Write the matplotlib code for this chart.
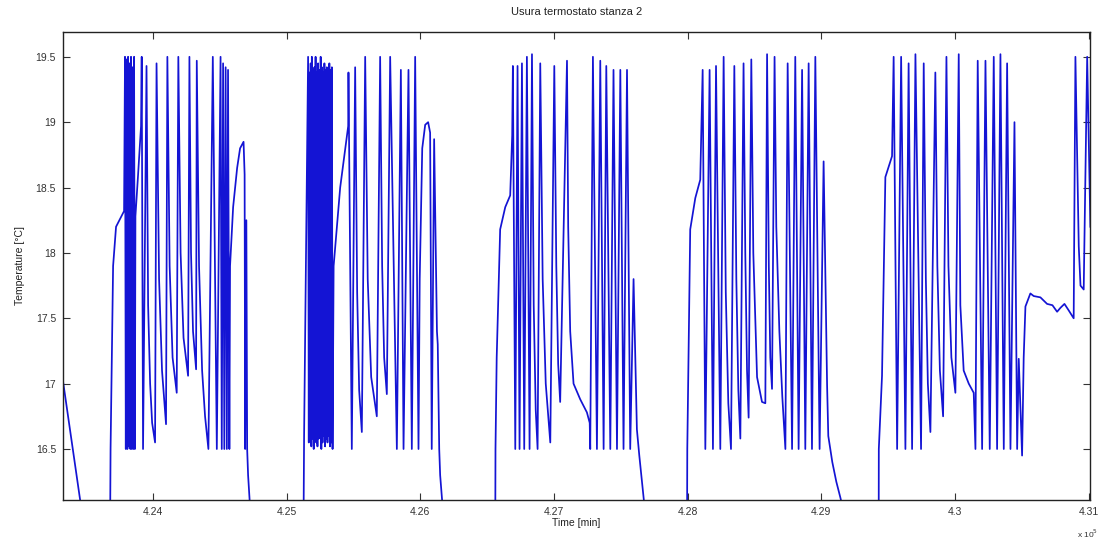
import numpy as np
import matplotlib.pyplot as plt
from matplotlib.ticker import FuncFormatter, MultipleLocator

plt.rcParams['font.family'] = ['Liberation Sans', 'DejaVu Sans']

# time [min] and temperature [C], one list per day
t_day0 = [423326, 423484]
temp_day0 = [17.02, 15.9]

t_day1 = [423678, 423682, 423701, 423723, 423783,
          423790, 423796, 423802, 423808, 423813, 423819, 423824, 423830, 423835, 423841, 423847, 423853, 423858, 423864,
          423868, 423888, 423910, 423915, 423925, 423951,
          423963, 423978, 423993, 424015, 424026,
          424045, 424067, 424097, 424107,
          424124, 424146, 424177, 424189,
          424206, 424228, 424262, 424272,
          424284, 424299, 424322, 424327,
          424344, 424367, 424389, 424414, 424447, 424477,
          424505, 424514, 424524, 424533, 424543, 424552, 424561, 424571,
          424576, 424599, 424629, 424651, 424677, 424685, 424689, 424698, 424704, 424711, 424741]
temp_day1 = [15.8, 16.5, 17.9, 18.2, 18.32,
             19.5, 16.5, 19.48, 16.5, 19.5, 16.52, 19.45, 16.5, 19.5, 16.5, 19.42, 16.5, 19.5, 16.5,
             18.28, 18.6, 18.97, 19.5, 16.5, 19.43,
             17.6, 17.0, 16.7, 16.55, 19.45,
             17.8, 17.1, 16.69, 19.5,
             17.9, 17.2, 16.93, 19.5,
             18.0, 17.35, 17.06, 19.5,
             18.0, 17.4, 17.11, 19.47,
             17.9, 17.1, 16.75, 16.5, 19.5, 16.5,
             19.5, 16.5, 19.45, 16.5, 19.42, 16.5, 19.4, 16.5,
             17.9, 18.35, 18.65, 18.8, 18.85, 18.6, 16.5, 18.25, 16.5, 16.3, 15.8]

t_day2 = [425125, 425130,
          425160, 425165, 425169, 425174, 425179, 425184, 425188, 425193, 425197, 425202,
          425207, 425212, 425216, 425221, 425225, 425230, 425235, 425240, 425244, 425249,
          425254, 425259, 425263, 425268, 425272, 425277, 425282, 425287, 425291, 425296,
          425300, 425305, 425310, 425315, 425319, 425324, 425328, 425333, 425338, 425343,
          425351, 425400, 425460, 425462, 425487, 425512,
          425527, 425542, 425562, 425587,
          425606, 425632, 425674, 425699,
          425714, 425729, 425749, 425774,
          425824, 425854, 425874, 425911, 425936, 425961, 425986,
          425995, 426014, 426036, 426058, 426073,
          426085, 426103, 426124, 426130, 426141, 426148, 426186]
temp_day2 = [15.8, 16.6,
             19.5, 16.55, 19.38, 16.6, 19.45, 16.52, 19.5, 16.58, 19.4, 16.5,
             19.42, 16.6, 19.5, 16.55, 19.38, 16.52, 19.45, 16.58, 19.4, 16.6,
             19.5, 16.5, 19.42, 16.55, 19.38, 16.6, 19.45, 16.52, 19.4, 16.58,
             19.42, 16.55, 19.38, 16.6, 19.45, 16.52, 19.4, 16.55, 19.42, 16.5,
             17.9, 18.5, 18.97, 19.38, 16.5, 19.42,
             17.7, 16.95, 16.63, 19.5,
             17.8, 17.05, 16.75, 19.5,
             17.9, 17.2, 16.92, 19.5,
             16.5, 19.4, 16.5, 19.4, 16.5, 19.5, 16.5,
             17.8, 18.8, 18.98, 19.0, 18.92,
             16.5, 18.87, 17.4, 17.3, 16.5, 16.3, 15.8]

t_day3 = [426560, 426562, 426571, 426597, 426635, 426672, 426687,
          426692, 426710, 426727, 426742, 426760, 426777, 426797, 426817, 426835,
          426848, 426863, 426877, 426897,
          426915, 426938, 426972, 427002,
          427017, 427031, 427046, 427097,
          427106, 427121, 427146, 427196, 427246, 427267, 427271,
          427291, 427321, 427346, 427371, 427391, 427421, 427445, 427471, 427496, 427520, 427546, 427570, 427595, 427620,
          427638, 427653, 427668, 427683, 427698]
temp_day3 = [15.8, 16.5, 17.2, 18.18, 18.35, 18.44, 18.9,
             19.43, 16.5, 19.43, 16.5, 19.45, 16.5, 19.5, 16.5, 19.52,
             17.6, 16.8, 16.5, 19.45,
             17.8, 17.0, 16.55, 19.43,
             17.9, 17.15, 16.86, 19.47,
             18.2, 17.4, 17.0, 16.88, 16.78, 16.7, 16.5,
             19.5, 16.5, 19.47, 16.5, 19.43, 16.5, 19.4, 16.5, 19.4, 16.5, 19.4, 16.5, 17.8, 16.65,
             16.45, 16.3, 16.15, 16.0, 15.85]

t_day4 = [427995, 427997, 428005, 428019, 428057, 428094,
          428112, 428132, 428164, 428189, 428212, 428244, 428269,
          428285, 428304, 428324, 428349,
          428364, 428379, 428394, 428418,
          428431, 428444, 428456, 428476,
          428491, 428519, 428556, 428581, 428594,
          428607, 428618, 428631, 428650,
          428663, 428686, 428708, 428731,
          428748, 428781, 428805, 428830, 428856, 428880, 428905, 428930, 428955, 428987, 429017, 429043,
          429052, 429082, 429112, 429142, 429172]
temp_day4 = [15.8, 16.5, 17.1, 18.18, 18.42, 18.56,
             19.4, 16.5, 19.4, 16.5, 19.43, 16.5, 19.5,
             17.7, 16.85, 16.5, 19.43,
             17.8, 16.95, 16.58, 19.45,
             18.0, 17.1, 16.74, 19.48,
             18.0, 17.05, 16.86, 16.85, 19.52,
             17.9, 17.2, 16.96, 19.5,
             18.2, 17.4, 16.9, 16.5,
             19.45, 16.5, 19.5, 16.5, 19.4, 16.5, 19.45, 16.5, 19.5, 16.5, 18.7, 16.99,
             16.6, 16.4, 16.25, 16.13, 16.0]

t_day5 = [429429, 429430, 429454, 429479, 429529,
          429541, 429567, 429597, 429629, 429653, 429679, 429704, 429746, 429766,
          429782, 429797, 429816, 429853,
          429868, 429887, 429911, 429936,
          429951, 429973, 430003, 430028,
          430040, 430065, 430103, 430140, 430153,
          430170, 430203, 430228, 430260, 430290, 430315, 430340, 430365, 430390, 430415, 430445, 430465, 430477, 430502,
          430514, 430527, 430564, 430589, 430639, 430689, 430729, 430764, 430789, 430819, 430851, 430888,
          430901, 430926, 430939, 430963, 430989, 431013]
temp_day5 = [15.8, 16.5, 17.06, 18.58, 18.74,
             19.5, 16.5, 19.5, 16.5, 19.45, 16.5, 19.52, 16.5, 19.45,
             17.8, 17.0, 16.63, 19.38,
             17.9, 17.1, 16.75, 19.5,
             17.9, 17.2, 16.93, 19.52,
             17.6, 17.1, 17.0, 16.93, 16.5,
             19.47, 16.5, 19.47, 16.5, 19.5, 16.5, 19.52, 16.5, 19.45, 16.5, 19.0, 16.5, 17.19, 16.45,
             17.2, 17.59, 17.69, 17.67, 17.66, 17.61, 17.6, 17.55, 17.58, 17.61, 17.56, 17.5,
             19.5, 18.05, 17.75, 17.72, 19.5, 18.2]

t = np.concatenate([t_day0, t_day1, t_day2, t_day3, t_day4, t_day5])
temp = np.concatenate([temp_day0, temp_day1, temp_day2, temp_day3, temp_day4, temp_day5])

fig = plt.figure(figsize=(11.03, 5.42), dpi=100)
ax = fig.add_axes([0.0571, 0.0775, 0.9311, 0.8635])
ax.plot(t, temp, color='#1414d4', linewidth=1.25)

ax.set_xlim(423326, 431010)
ax.set_ylim(16.11, 19.69)
ax.xaxis.set_major_locator(MultipleLocator(1000))
ax.yaxis.set_major_locator(MultipleLocator(0.5))
ax.xaxis.set_major_formatter(FuncFormatter(lambda v, p: '%g' % round(v / 1e5, 4)))
ax.yaxis.set_major_formatter(FuncFormatter(lambda v, p: '%g' % v))
ax.tick_params(direction='in', top=True, right=True, length=5, width=0.8,
               labelsize=7.5, colors='#333333', pad=5)
for s in ax.spines.values():
    s.set_linewidth(1.0)
    s.set_color('#222222')

ax.set_title('Usura termostato stanza 2', fontsize=8, color='#222222', pad=12)
ax.set_xlabel('Time [min]', fontsize=7.5, color='#222222', labelpad=1)
ax.set_ylabel('Temperature [°C]', fontsize=7.5, color='#222222', labelpad=8)
ax.text(0.998, -0.058, 'x 10$^5$', transform=ax.transAxes, fontsize=6,
        color='#333333', ha='center', va='top')

fig.savefig('out.png', dpi=100)
